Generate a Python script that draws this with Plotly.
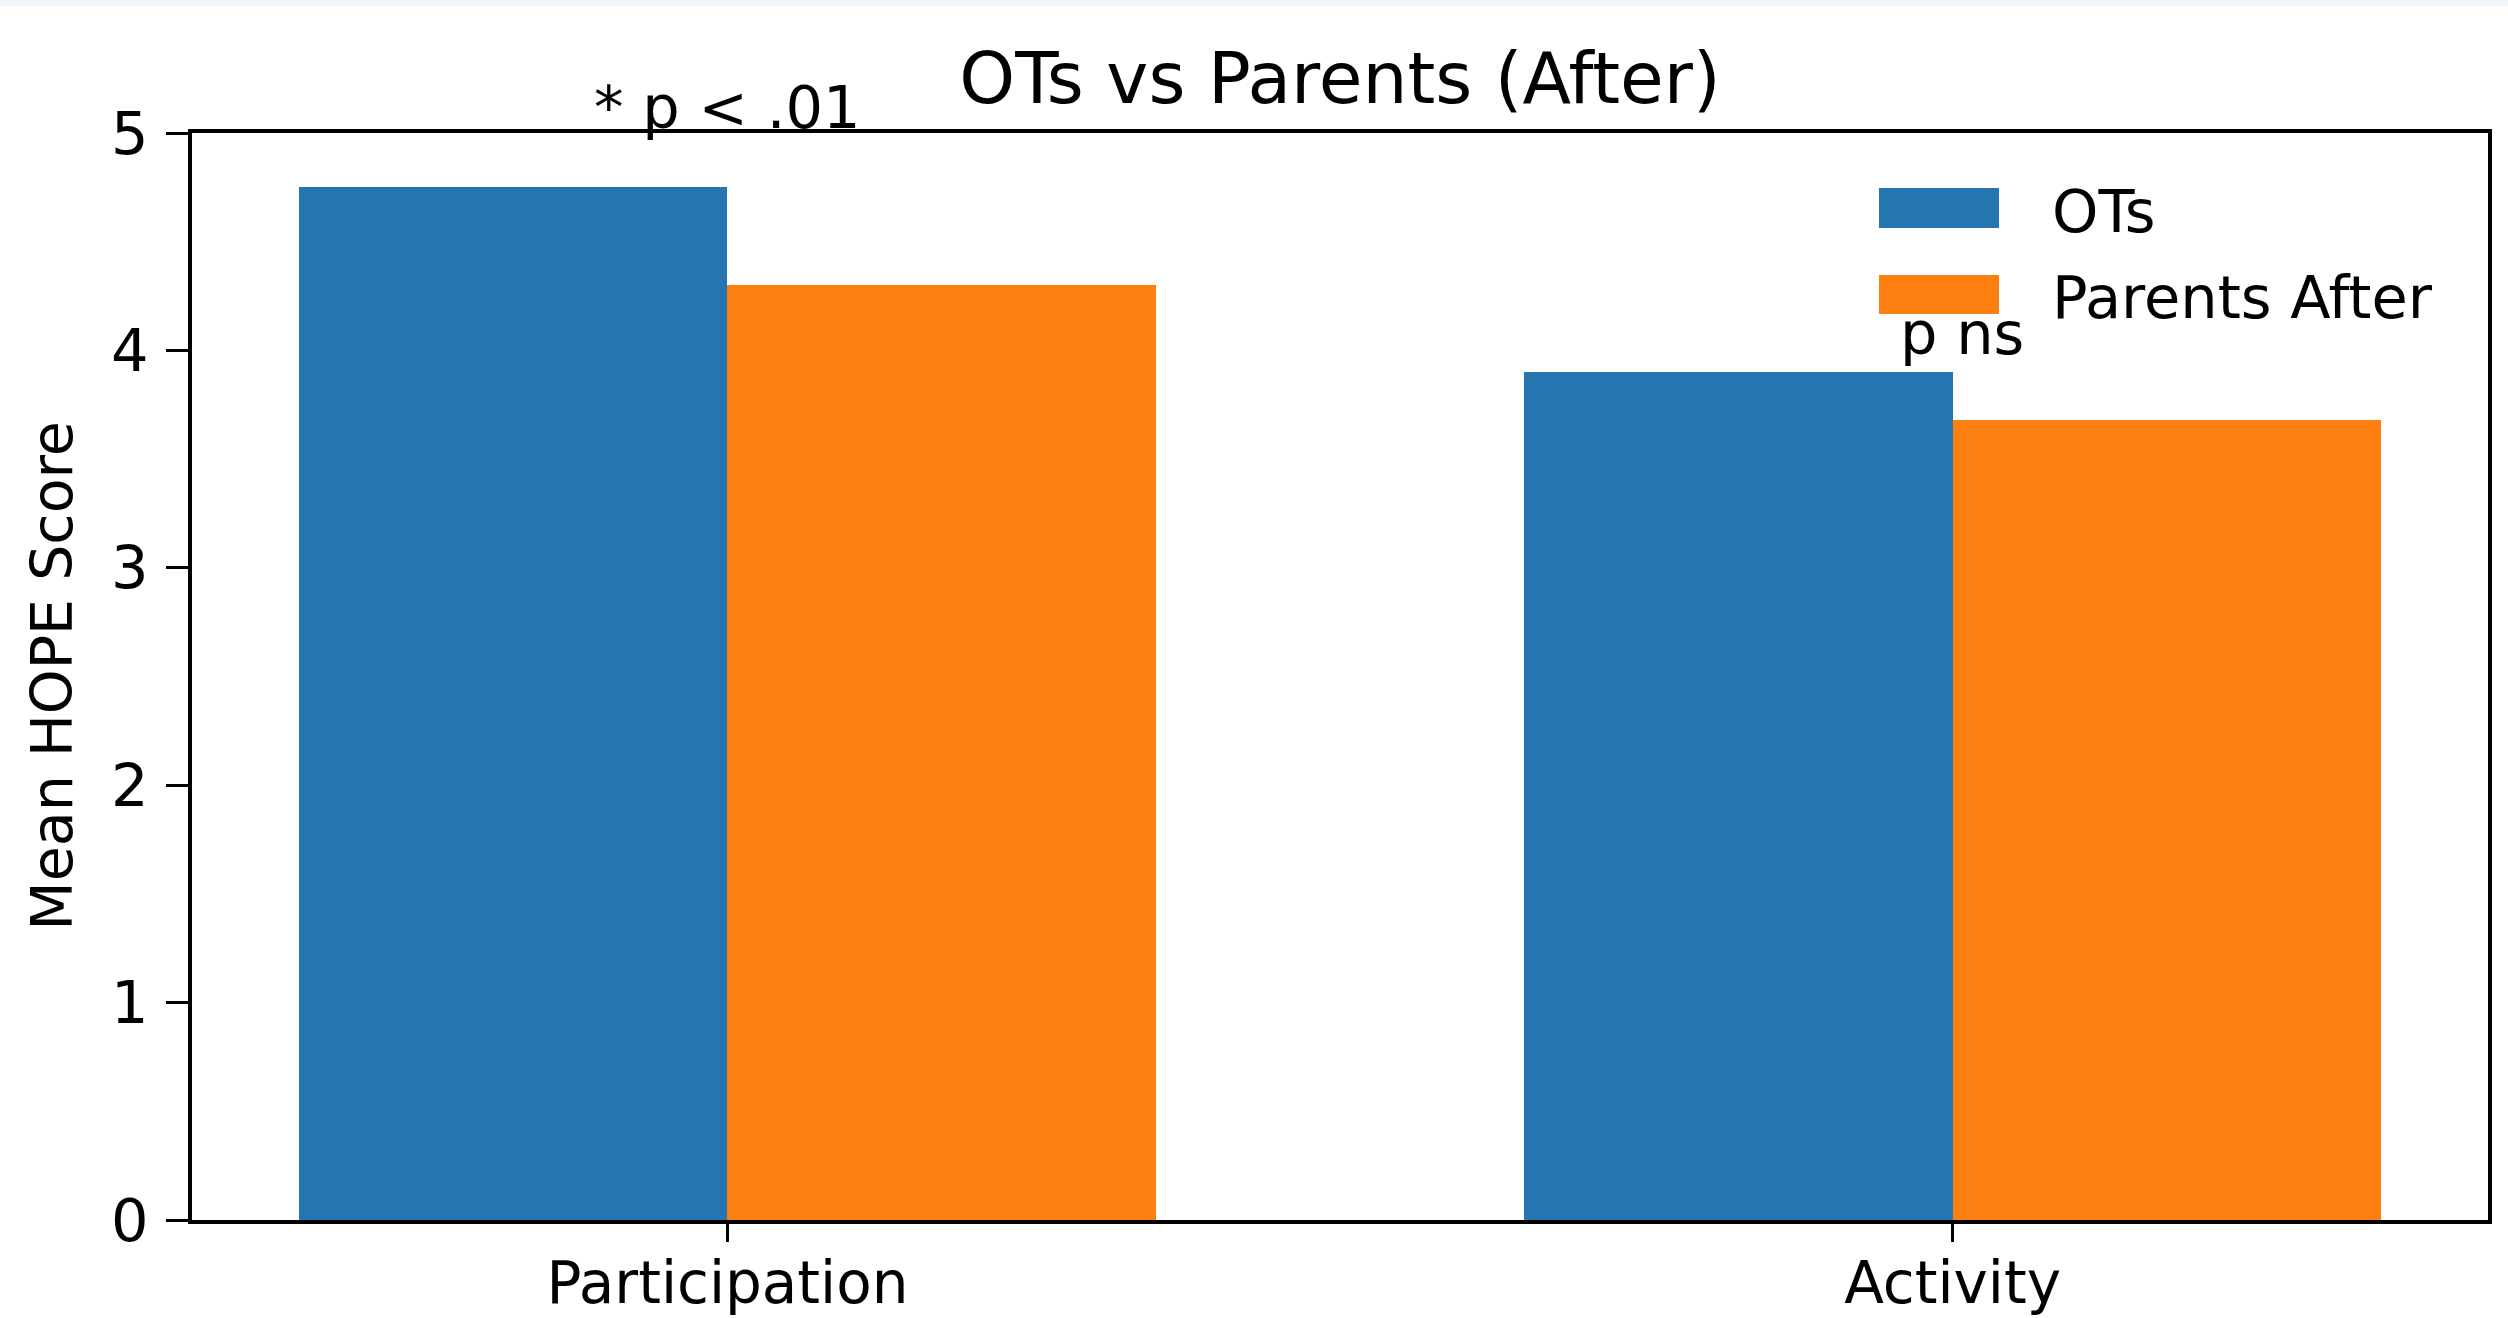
import plotly.graph_objects as go

# ---- data ----
categories = ["Participation", "Activity"]
series_names = ["OTs", "Parents After"]
ots_values = [4.75, 3.90]
parents_values = [4.30, 3.68]
sig_labels = ["* p < .01", "p ns"]
sig_label_y = [4.95, 3.91]
y_ticks = [0, 1, 2, 3, 4, 5]

BLUE = "#2475b0"
ORANGE = "#fd7f0f"
FONT = "DejaVu Sans"

W, H = 2508, 1318
L, R, T, B = 192, 20, 133, 98
bar_w = 0.35
x_pos = list(range(len(categories)))

fig = go.Figure()
fig.add_trace(go.Bar(
    x=[p - bar_w / 2 for p in x_pos], y=ots_values, width=bar_w,
    name=series_names[0], marker=dict(color=BLUE, line=dict(width=0)),
    showlegend=False,
))
fig.add_trace(go.Bar(
    x=[p + bar_w / 2 for p in x_pos], y=parents_values, width=bar_w,
    name=series_names[1], marker=dict(color=ORANGE, line=dict(width=0)),
    showlegend=False,
))

pw = W - L - R
ph = H - T - B
def px_x(v):
    return (v - L) / pw
def px_y(v):
    return 1 - (v - T) / ph

annotations = []
# significance labels
for p, txt, yy in zip(x_pos, sig_labels, sig_label_y):
    annotations.append(dict(
        x=p + (0.008 if p == 1 else 0), y=yy, xref="x", yref="y", text=txt,
        showarrow=False, xanchor="center", yanchor="bottom",
        font=dict(family=FONT, size=59, color="black"),
    ))

# y-axis title
annotations.append(dict(
    x=px_x(51), y=0.5, xref="paper", yref="paper", text="Mean HOPE Score",
    showarrow=False, textangle=-90, xanchor="center", yanchor="middle",
    font=dict(family=FONT, size=57, color="black"),
))

# custom legend (large patches like the reference)
shapes = []
legend_rows = [(series_names[0], BLUE, 188, 228), (series_names[1], ORANGE, 275, 314)]
for name, col, y0, y1 in legend_rows:
    shapes.append(dict(type="rect", xref="paper", yref="paper",
                       x0=px_x(1879), x1=px_x(1999), y0=px_y(y1), y1=px_y(y0),
                       fillcolor=col, line=dict(width=0)))
    annotations.append(dict(
        x=px_x(2050), y=px_y((y0 + y1) / 2 + 3), xref="paper", yref="paper", text=name,
        showarrow=False, xanchor="left", yanchor="middle",
        font=dict(family=FONT, size=59, color="black"),
    ))

# thin light strip at the top of the image
shapes.append(dict(type="rect", xref="paper", yref="paper",
                   x0=px_x(0), x1=px_x(W), y0=px_y(6), y1=px_y(0),
                   fillcolor="#eef4f8", line=dict(width=0), layer="below"))

fig.update_layout(
    width=W, height=H, autosize=False,
    margin=dict(l=L, r=R, t=T, b=B, pad=0, autoexpand=False),
    paper_bgcolor="white", plot_bgcolor="white",
    barmode="overlay", bargap=0,
    title=dict(text="OTs vs Parents (After)", x=(L + pw / 2) / W, xanchor="center",
               y=1 - 78 / H, yanchor="middle", yref="container",
               font=dict(family=FONT, size=71, color="black"), automargin=False),
    font=dict(family=FONT, color="black"),
    annotations=annotations,
    shapes=shapes,
)
fig.update_xaxes(
    range=[-0.437, 1.437], tickmode="array", tickvals=x_pos, ticktext=categories,
    showgrid=False, zeroline=False, showline=True, mirror=True,
    linecolor="black", linewidth=3.5, automargin=False,
    ticks="outside", ticklen=18, tickwidth=3, tickcolor="black",
    tickfont=dict(family=FONT, size=58, color="black"), ticklabelstandoff=-8,
)
fig.update_yaxes(
    range=[0, 5], tickmode="array", tickvals=y_ticks,
    showgrid=False, zeroline=False, showline=True, mirror=True,
    linecolor="black", linewidth=3.5, automargin=False,
    ticks="outside", ticklen=22, tickwidth=3, tickcolor="black",
    tickfont=dict(family=FONT, size=59, color="black"), ticklabelstandoff=6,
)

fig.write_html(
    "out.html",
    config={"displayModeBar": False},
    post_script="document.body.style.margin='0';document.body.style.overflow='hidden';",
)
